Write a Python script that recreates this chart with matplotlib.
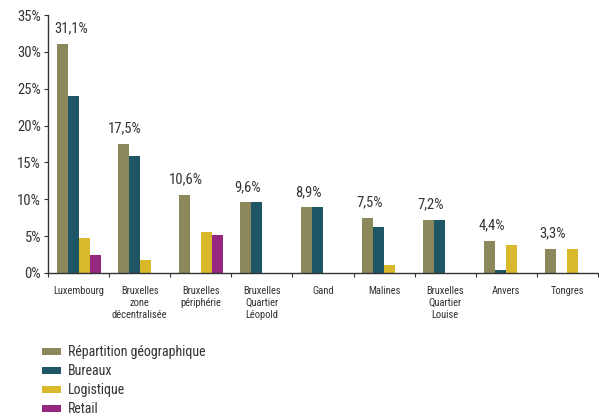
import numpy as np
import matplotlib
matplotlib.use("Agg")
import matplotlib.pyplot as plt
from matplotlib.ticker import FuncFormatter, MultipleLocator, FixedLocator

plt.rcParams["font.family"] = ["Roboto Condensed", "DejaVu Sans"]

categories = [
    "Luxembourg",
    "Bruxelles\nzone\ndécentralisée",
    "Bruxelles\npériphérie",
    "Bruxelles\nQuartier\nLéopold",
    "Gand",
    "Malines",
    "Bruxelles\nQuartier\nLouise",
    "Anvers",
    "Tongres",
]
repartition = [31.1, 17.5, 10.6, 9.6, 8.9, 7.5, 7.2, 4.4, 3.3]
bureaux = [24.0, 15.9, 0.0, 9.6, 8.9, 6.3, 7.2, 0.45, 0.0]
logistique = [4.8, 1.8, 5.6, 0.0, 0.0, 1.1, 0.0, 3.8, 3.3]
retail = [2.5, 0.0, 5.2, 0.0, 0.0, 0.0, 0.0, 0.0, 0.0]

series = [
    ("Répartition géographique", repartition, "#8b895c"),
    ("Bureaux", bureaux, "#1f5666"),
    ("Logistique", logistique, "#d8b92c"),
    ("Retail", retail, "#95287e"),
]

fig = plt.figure(figsize=(5.99, 4.19), dpi=100)
ax = fig.add_axes([48 / 599, 1 - 273 / 419, 550 / 599, 258 / 419])

x = np.arange(len(categories))
width = 0.18
for i, (name, vals, color) in enumerate(series):
    ax.bar(x + (i - 1.5) * width, vals, width, color=color, label=name)

# value labels over the first series (the first one nudged off the y axis)
for i, (xi, v) in enumerate(zip(x, repartition)):
    dx = 5 if i == 0 else 0
    ax.annotate(f"{v:.1f}%".replace(".", ","), (xi - 1.5 * width + 0.03, v),
                xytext=(dx, 6), textcoords="offset points",
                ha="center", va="bottom", fontsize=10.5, color="#333333")

ax.set_xlim(-0.5, len(categories) - 0.5)
ax.set_ylim(0, 35)
ax.yaxis.set_major_locator(MultipleLocator(5))
ax.yaxis.set_major_formatter(FuncFormatter(lambda v, _: f"{v:.0f}%"))
ax.set_xticks(x)
ax.set_xticklabels(categories, fontsize=7.6, color="#333333", linespacing=1.3)
ax.xaxis.set_minor_locator(FixedLocator(np.arange(len(categories) + 1) - 0.5))
ax.tick_params(axis="x", which="major", length=0, pad=9)
ax.tick_params(axis="x", which="minor", length=3, width=0.8, color="#333333")
ax.tick_params(axis="y", length=3, width=0.8, color="#333333", labelsize=10.5,
               labelcolor="#333333", pad=2)
for s in ["top", "right"]:
    ax.spines[s].set_visible(False)
for s in ["left", "bottom"]:
    ax.spines[s].set_color("#333333")
    ax.spines[s].set_linewidth(1.0)

fig.legend(loc="upper left", bbox_to_anchor=(42 / 599, 1 - 345 / 419),
           frameon=False, fontsize=10, handlelength=1.4, handleheight=0.4,
           handletextpad=0.45, labelspacing=0.36, labelcolor="#333333",
           borderaxespad=0, borderpad=0)

fig.savefig("out.png", dpi=100)
